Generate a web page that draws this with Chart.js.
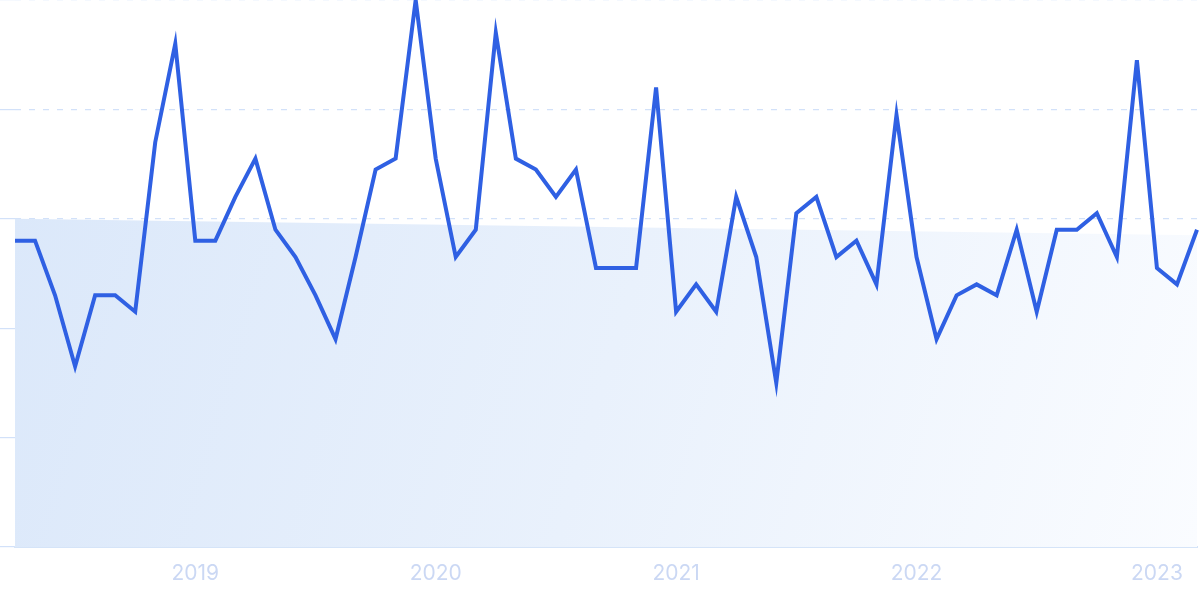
<!DOCTYPE html>
<html>
<head>
<meta charset="utf-8">
<script src="https://cdn.jsdelivr.net/npm/chart.js@4/dist/chart.umd.min.js"></script>
<style>
  html, body { margin: 0; padding: 0; background: #fff; }
  #wrap { width: 1200px; height: 599px; }
</style>
</head>
<body>
<div id="wrap"><canvas id="trendChart"></canvas></div>
<script>
// monthly labels, Apr 2018 .. Mar 2023
const months = [
  '2018-04','2018-05','2018-06','2018-07','2018-08','2018-09','2018-10','2018-11','2018-12',
  '2019-01','2019-02','2019-03','2019-04','2019-05','2019-06','2019-07','2019-08','2019-09','2019-10','2019-11','2019-12',
  '2020-01','2020-02','2020-03','2020-04','2020-05','2020-06','2020-07','2020-08','2020-09','2020-10','2020-11','2020-12',
  '2021-01','2021-02','2021-03','2021-04','2021-05','2021-06','2021-07','2021-08','2021-09','2021-10','2021-11','2021-12',
  '2022-01','2022-02','2022-03','2022-04','2022-05','2022-06','2022-07','2022-08','2022-09','2022-10','2022-11','2022-12',
  '2023-01','2023-02','2023-03'
];

const searchInterest = [
  56, 56, 46, 33, 46, 46, 43, 74, 92,
  56, 56, 64, 71, 58, 53, 46, 38, 53, 69, 71, 100,
  71, 53, 58, 94, 71, 69, 64, 69, 51, 51, 51, 84,
  43, 48, 43, 64, 53, 30, 61, 64, 53, 56, 48, 79,
  53, 38, 46, 48, 46, 58, 43, 58, 58, 61, 53, 89,
  51, 48, 58
];

// trend band: only the two end values, the rest is left empty
const trendStart = 60;
const trendEnd = 57;
const trendValues = months.map((m, i) => i === 0 ? trendStart : (i === months.length - 1 ? trendEnd : null));

const yTicks = [0, 20, 40, 60, 80, 100];

function bandFill(context) {
  const chart = context.chart;
  const area = chart.chartArea;
  if (!area) return 'rgba(220,233,251,0.9)';
  const g = chart.ctx.createLinearGradient(area.left, area.top + 200, area.right, area.bottom);
  g.addColorStop(0, '#dbe8fa');
  g.addColorStop(0.5, '#e9f1fc');
  g.addColorStop(1, '#fafcff');
  return g;
}

const ctx = document.getElementById('trendChart').getContext('2d');
const chart = new Chart(ctx, {
  type: 'line',
  data: {
    labels: months,
    datasets: [
      {
        label: 'Interest',
        data: searchInterest,
        borderColor: '#2f60e3',
        borderWidth: 4,
        pointRadius: 0,
        tension: 0,
        fill: false,
        order: 0
      },
      {
        label: 'Trend',
        data: trendValues,
        spanGaps: true,
        borderWidth: 0,
        borderColor: 'rgba(0,0,0,0)',
        pointRadius: 0,
        fill: 'origin',
        backgroundColor: bandFill,
        order: 1
      }
    ]
  },
  options: {
    responsive: true,
    maintainAspectRatio: false,
    animation: false,
    layout: { padding: { left: 0, right: 3, top: 0, bottom: 0 } },
    plugins: { legend: { display: false }, tooltip: { enabled: false } },
    scales: {
      x: {
        offset: false,
        grid: { display: false, drawTicks: true, tickLength: 2 },
        border: { display: true, color: '#d5e4f8', width: 2 },
        ticks: {
          autoSkip: false,
          maxRotation: 0,
          padding: 3,
          color: '#cbd8f4',
          font: { family: 'Inter', size: 21, lineHeight: 2.1 },
          callback: function(value) {
            const m = months[value];
            return m.endsWith('-01') ? m.slice(0, 4) : '';
          }
        }
      },
      y: {
        min: yTicks[0],
        max: yTicks[yTicks.length - 1],
        afterBuildTicks: function(scale) {
          scale.ticks = yTicks.map(v => ({ value: v }));
        },
        grid: {
          color: '#d2e1f9',
          lineWidth: 1.2,
          tickLength: 15,
          drawTicks: true
        },
        border: { display: false, dash: [6, 8] },
        ticks: { display: false }
      }
    }
  }
});
</script>
</body>
</html>
